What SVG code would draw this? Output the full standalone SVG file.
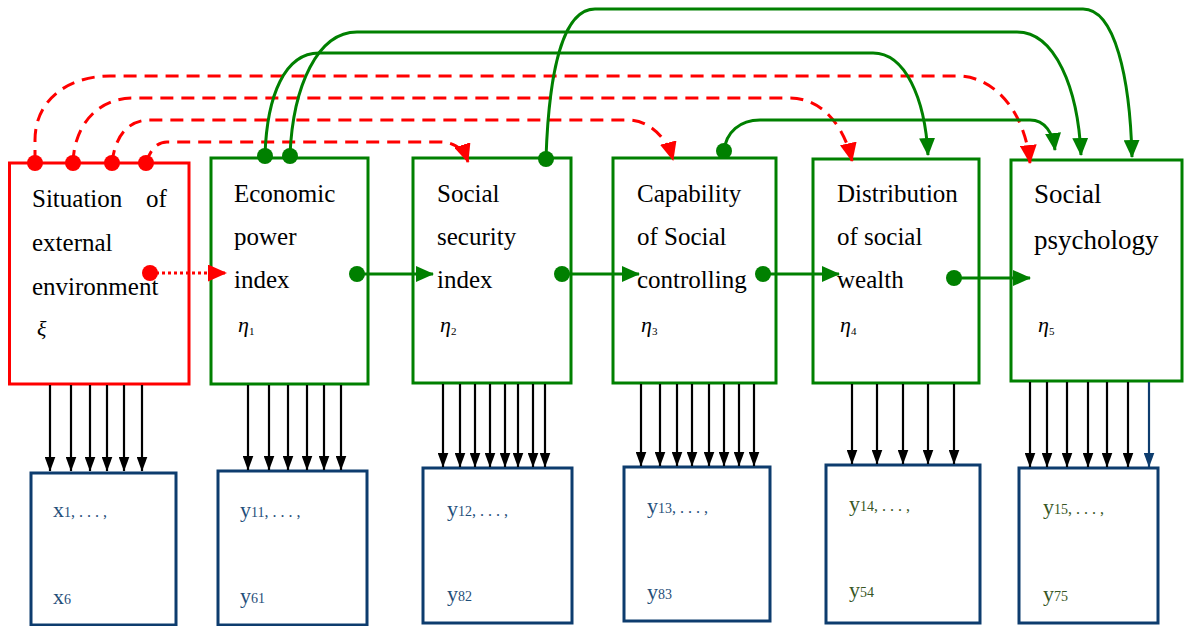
<svg xmlns="http://www.w3.org/2000/svg" width="1184" height="626" viewBox="0 0 1184 626">
<style>
.lv{fill:#fff;stroke:#008000;stroke-width:3}
.ex{fill:#fff;stroke:#ff0000;stroke-width:3}
.ob{fill:#fff;stroke:#0d3c6e;stroke-width:3}
.t{font-family:"Liberation Serif","Times New Roman",serif;font-size:25px;fill:#000}
.t6{font-family:"Liberation Serif","Times New Roman",serif;font-size:27px;fill:#000}
.g{font-family:"Liberation Serif","Times New Roman",serif;font-size:22px;font-style:italic;fill:#000}
.sub{font-size:11px;font-style:normal}
.ob-t{font-family:"Liberation Serif","Times New Roman",serif;font-size:22px;fill:#1f4e79}
.ob-g{font-family:"Liberation Serif","Times New Roman",serif;font-size:22px;fill:#375623}
.s{font-size:14px}
.el{font-size:16px;letter-spacing:4px}
.rd{fill:none;stroke:#ff0000;stroke-width:3;stroke-dasharray:13 8}
.rdot{fill:none;stroke:#ff0000;stroke-width:3;stroke-dasharray:3 3}
.gl{fill:none;stroke:#008000;stroke-width:3}
.bl{fill:none;stroke:#000;stroke-width:2.2;marker-end:url(#ab)}
.bb{fill:none;stroke:#0d3c6e;stroke-width:2.2;marker-end:url(#an)}
.dr{fill:#ff0000}
.dg{fill:#008000}
</style>
<defs>
<marker id="ag" markerUnits="userSpaceOnUse" markerWidth="18" markerHeight="16" refX="17" refY="8" orient="auto" viewBox="0 0 18 16"><path d="M0,0 L18,8 L0,16 z" fill="#008000"/></marker>
<marker id="ar" markerUnits="userSpaceOnUse" markerWidth="19" markerHeight="17" refX="18" refY="8.5" orient="auto" viewBox="0 0 19 17"><path d="M0,0 L19,8.5 L0,17 z" fill="#ff0000"/></marker>
<marker id="ab" markerUnits="userSpaceOnUse" markerWidth="15" markerHeight="11" refX="14.5" refY="5.5" orient="auto" viewBox="0 0 15 11"><path d="M0,0 L15,5.5 L0,11 z" fill="#000"/></marker>
<marker id="an" markerUnits="userSpaceOnUse" markerWidth="15" markerHeight="11" refX="14.5" refY="5.5" orient="auto" viewBox="0 0 15 11"><path d="M0,0 L15,5.5 L0,11 z" fill="#0d3c6e"/></marker>
</defs>

<g id="xi">
<rect class="ex" x="9.5" y="163" width="179.5" height="221"/>
<text class="t"><tspan x="32" y="207">Situation</tspan><tspan x="146" y="207">of</tspan><tspan x="32" y="251">external</tspan><tspan x="32" y="295">environment</tspan></text>
<text class="g" x="37" y="336">ξ</text>
</g>
<g id="eta1">
<rect class="lv" x="211" y="158" width="157" height="226"/>
<text class="t"><tspan x="234" y="202">Economic</tspan><tspan x="234" y="245">power</tspan><tspan x="234" y="288">index</tspan></text>
<text class="g" x="238" y="332">η<tspan class="sub" dy="3">1</tspan></text>
</g>
<g id="eta2">
<rect class="lv" x="413" y="158" width="158" height="225"/>
<text class="t"><tspan x="437" y="202">Social</tspan><tspan x="437" y="245">security</tspan><tspan x="437" y="288">index</tspan></text>
<text class="g" x="440" y="332">η<tspan class="sub" dy="3">2</tspan></text>
</g>
<g id="eta3">
<rect class="lv" x="613" y="158" width="163" height="225"/>
<text class="t"><tspan x="637" y="202">Capability</tspan><tspan x="637" y="245">of Social</tspan><tspan x="637" y="288">controlling</tspan></text>
<text class="g" x="641" y="332">η<tspan class="sub" dy="3">3</tspan></text>
</g>
<g id="eta4">
<rect class="lv" x="813" y="159" width="166" height="224"/>
<text class="t"><tspan x="837" y="202">Distribution</tspan><tspan x="837" y="245">of social</tspan><tspan x="837" y="288">wealth</tspan></text>
<text class="g" x="840" y="332">η<tspan class="sub" dy="3">4</tspan></text>
</g>
<g id="eta5">
<rect class="lv" x="1011" y="160" width="171" height="221"/>
<text class="t6"><tspan x="1034" y="203">Social</tspan><tspan x="1034" y="249">psychology</tspan></text>
<text class="g" x="1038" y="332">η<tspan class="sub" dy="3">5</tspan></text>
</g>

<g id="obs-x">
<rect class="ob" x="31" y="473" width="145" height="152"/>
<text class="ob-t" x="53" y="517">x<tspan class="s">1</tspan><tspan class="el">,...,</tspan></text>
<text class="ob-t" x="53" y="604">x<tspan class="s">6</tspan></text>
</g>
<g id="obs-y1">
<rect class="ob" x="218" y="471" width="149" height="154"/>
<text class="ob-t" x="240" y="517">y<tspan class="s">11</tspan><tspan class="el">,...,</tspan></text>
<text class="ob-t" x="240" y="603">y<tspan class="s">61</tspan></text>
</g>
<g id="obs-y2">
<rect class="ob" x="423" y="468" width="149" height="155"/>
<text class="ob-t" x="447" y="516">y<tspan class="s">12</tspan><tspan class="el">,...,</tspan></text>
<text class="ob-t" x="447" y="601">y<tspan class="s">82</tspan></text>
</g>
<g id="obs-y3">
<rect class="ob" x="624" y="467" width="146" height="154"/>
<text class="ob-t" x="647" y="513">y<tspan class="s">13</tspan><tspan class="el">,...,</tspan></text>
<text class="ob-t" x="647" y="599">y<tspan class="s">83</tspan></text>
</g>
<g id="obs-y4">
<rect class="ob" x="826" y="465" width="154" height="158"/>
<text class="ob-g" x="849" y="511">y<tspan class="s">14</tspan><tspan class="el">,...,</tspan></text>
<text class="ob-g" x="849" y="597">y<tspan class="s">54</tspan></text>
</g>
<g id="obs-y5">
<rect class="ob" x="1019" y="468" width="139" height="155"/>
<text class="ob-g" x="1043" y="514">y<tspan class="s">15</tspan><tspan class="el">,...,</tspan></text>
<text class="ob-g" x="1043" y="601">y<tspan class="s">75</tspan></text>
</g>

<g id="connectors">
<path class="rd" marker-end="url(#ar)" d="M35,163 L35,140 C35,100 68,76 110,76 L957,76 C995,76 1025,112 1030,163"/>
<path class="rd" marker-end="url(#ar)" d="M73,163 C74,125 98,98 133,98 L790,98 C823,98 845,128 852,161"/>
<path class="rd" marker-end="url(#ar)" d="M112,163 C115,136 128,120 150,120 L627,120 C650,120 667,138 673,160"/>
<path class="rd" marker-end="url(#ar)" d="M146,163 C150,150 157,142 167,142 L440,142 C455,142 464,150 468,162"/>
<path class="gl" marker-end="url(#ag)" d="M265,155 C267,95 285,53 319,53 L873,53 C905,53 925,98 928,155"/>
<path class="gl" marker-end="url(#ag)" d="M290,155 C293,85 318,32 357,32 L1017,32 C1055,32 1078,88 1081,155"/>
<path class="gl" marker-end="url(#ag)" d="M546,158 C549,70 563,9 595,9 L1083,9 C1115,9 1130,78 1132,157"/>
<path class="gl" marker-end="url(#ag)" d="M724,151 C726,132 740,120 760,120 L1030,120 C1045,120 1053,133 1055,150"/>
<path class="rdot" marker-end="url(#ar)" d="M150,273 L226,273"/>
<path class="gl" marker-end="url(#ag)" d="M357,274 L433,274"/>
<path class="gl" marker-end="url(#ag)" d="M562,274 L639,274"/>
<path class="gl" marker-end="url(#ag)" d="M763,274 L839,274"/>
<path class="gl" marker-end="url(#ag)" d="M954,278 L1030,278"/>
<circle class="dr" cx="35" cy="163" r="8"/>
<circle class="dr" cx="73" cy="163" r="8"/>
<circle class="dr" cx="112" cy="163" r="8"/>
<circle class="dr" cx="146" cy="163" r="8"/>
<circle class="dr" cx="150" cy="273" r="8"/>
<circle class="dg" cx="265" cy="156" r="8"/>
<circle class="dg" cx="290" cy="156" r="8"/>
<circle class="dg" cx="546" cy="159" r="8"/>
<circle class="dg" cx="724" cy="151" r="8"/>
<circle class="dg" cx="357" cy="274" r="8"/>
<circle class="dg" cx="562" cy="274" r="8"/>
<circle class="dg" cx="763" cy="274" r="8"/>
<circle class="dg" cx="954" cy="278" r="8"/>
<path class="bl" d="M50,385 V471"/><path class="bl" d="M71,385 V471"/><path class="bl" d="M90,385 V471"/><path class="bl" d="M107,385 V471"/><path class="bl" d="M124,385 V471"/><path class="bl" d="M142,385 V471"/>
<path class="bl" d="M248,385 V470"/><path class="bl" d="M269,385 V470"/><path class="bl" d="M288,385 V470"/><path class="bl" d="M307,385 V470"/><path class="bl" d="M324,385 V470"/><path class="bl" d="M341,385 V470"/>
<path class="bl" d="M443,384 V467"/><path class="bl" d="M460,384 V467"/><path class="bl" d="M475,384 V467"/><path class="bl" d="M490,384 V467"/><path class="bl" d="M505,384 V467"/><path class="bl" d="M518,384 V467"/><path class="bl" d="M533,384 V467"/><path class="bl" d="M545,384 V467"/>
<path class="bl" d="M641,384 V466"/><path class="bl" d="M660,384 V466"/><path class="bl" d="M677,384 V466"/><path class="bl" d="M692,384 V466"/><path class="bl" d="M709,384 V466"/><path class="bl" d="M724,384 V466"/><path class="bl" d="M739,384 V466"/><path class="bl" d="M754,384 V466"/>
<path class="bl" d="M852,384 V464"/><path class="bl" d="M877,384 V464"/><path class="bl" d="M903,384 V464"/><path class="bl" d="M928,384 V464"/><path class="bl" d="M954,384 V464"/>
<path class="bl" d="M1030,382 V467"/><path class="bl" d="M1047,382 V467"/><path class="bl" d="M1067,382 V467"/><path class="bl" d="M1088,382 V467"/><path class="bl" d="M1107,382 V467"/><path class="bl" d="M1128,382 V467"/>
<path class="bb" d="M1149,382 V467"/>
</g>
</svg>
